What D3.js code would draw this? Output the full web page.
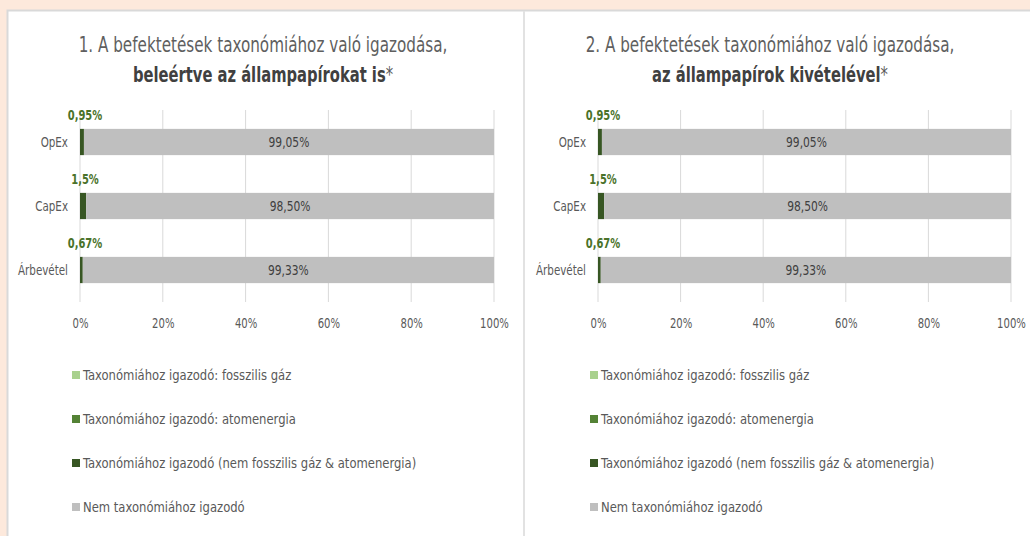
<!DOCTYPE html>
<html><head><meta charset="utf-8">
<script src="https://cdn.jsdelivr.net/npm/d3@7"></script>
<style>
html,body{margin:0;padding:0;background:#fde9dc;}
svg{display:block;}
text{font-family:"DejaVu Sans Condensed","Liberation Sans Narrow","Open Sans",sans-serif;}
</style></head>
<body>
<svg id="c" width="1030" height="536"></svg>
<script>
const categories = ["OpEx", "CapEx", "Árbevétel"];
const seriesNames = [
  "Taxonómiához igazodó: fosszilis gáz",
  "Taxonómiához igazodó: atomenergia",
  "Taxonómiához igazodó (nem fosszilis gáz & atomenergia)",
  "Nem taxonómiához igazodó"
];
const seriesColors = ["#a9d18e", "#548235", "#375623", "#bfbfbf"];
const fossilGas = [0, 0, 0];
const nuclear = [0, 0, 0];
const alignedOther = [0.95, 1.5, 0.67];
const notAligned = [99.05, 98.50, 99.33];
const alignedLabels = ["0,95%", "1,5%", "0,67%"];
const notAlignedLabels = ["99,05%", "98,50%", "99,33%"];
const xTicks = [0, 20, 40, 60, 80, 100];
const titles = [
  ["1. A befektetések taxonómiához való igazodása,", "beleértve az állampapírokat is", "*"],
  ["2. A befektetések taxonómiához való igazodása,", "az állampapírok kivételével", "*"]
];

// horizontally condense text around its anchor x (reference font is narrow)
function condense(sel, f) {
  sel.each(function () {
    const el = d3.select(this);
    const ax = +el.attr("x") || 0;
    const prev = el.attr("transform") || "";
    el.attr("transform", prev + ` translate(${ax},0) scale(${f},1) translate(${-ax},0)`);
  });
}

const svg = d3.select("#c");
svg.append("rect").attr("x", 7.5).attr("y", 10.5).attr("width", 1030).attr("height", 540)
  .attr("fill", "#fff").attr("stroke", "#d9d9d9").attr("stroke-width", 2);
svg.append("line").attr("x1", 524).attr("x2", 524).attr("y1", 11).attr("y2", 536)
  .attr("stroke", "#e2e2e2").attr("stroke-width", 2);

const panels = [
  {x0: 80, x1: 494, titleX: 263},
  {x0: 598, x1: 1011, titleX: 770}
];

const seriesData = [fossilGas, nuclear, alignedOther, notAligned];
const rows = categories.map((c, i) => {
  const o = {cat: c};
  seriesData.forEach((s, k) => o["s" + k] = s[i]);
  return o;
});
const stack = d3.stack().keys(["s0", "s1", "s2", "s3"])(rows);

panels.forEach((p, pi) => {
  const g = svg.append("g");
  const x = d3.scaleLinear().domain([0, 100]).range([p.x0, p.x1]);
  const y = d3.scaleBand().domain(categories).range([110, 302]).paddingInner(0.59).paddingOuter(0.295);

  // title
  const t1 = g.append("text").attr("x", p.titleX).attr("y", 52).attr("text-anchor", "middle")
    .attr("font-size", 21).attr("fill", "#5f5f5f").text(titles[pi][0]);
  condense(t1, 0.805);
  const t2 = g.append("text").attr("x", p.titleX).attr("y", 82).attr("text-anchor", "middle")
    .attr("font-size", 21).attr("fill", "#595959");
  t2.append("tspan").attr("font-weight", "bold").attr("fill", "#404040").text(titles[pi][1]);
  t2.append("tspan").text(titles[pi][2]);
  condense(t2, 0.78);

  // gridlines
  g.selectAll(".grid").data(xTicks).join("line")
    .attr("x1", d => x(d)).attr("x2", d => x(d))
    .attr("y1", 110).attr("y2", 302)
    .attr("stroke", "#d9d9d9").attr("stroke-width", 1);

  // x axis labels
  const ax = g.append("g").attr("transform", "translate(0,302)")
    .call(d3.axisBottom(x).tickValues(xTicks).tickFormat(d => d + "%").tickSize(0).tickPadding(16));
  ax.select(".domain").remove();
  ax.selectAll("text").attr("font-size", 14).attr("fill", "#595959")
    .style("font-family", '"DejaVu Sans Condensed","Liberation Sans Narrow",sans-serif');
  condense(ax.selectAll("text"), 0.8);

  // y labels
  const cl = g.selectAll(".cat").data(categories).join("text")
    .attr("x", p.x0 - 12).attr("y", d => y(d) + y.bandwidth() / 2)
    .attr("dy", "0.35em").attr("text-anchor", "end")
    .attr("font-size", 14).attr("fill", "#595959").text(d => d);
  condense(cl, 0.82);

  // bars
  stack.forEach((s, k) => {
    g.selectAll(".b" + k).data(s).join("rect")
      .attr("x", d => x(d[0])).attr("width", d => Math.max(0, x(d[1]) - x(d[0])))
      .attr("y", d => y(d.data.cat)).attr("height", y.bandwidth())
      .attr("fill", seriesColors[k]);
  });

  // labels inside gray
  const il = g.selectAll(".lab").data(stack[3]).join("text")
    .attr("x", d => (x(d[0]) + x(d[1])) / 2)
    .attr("y", d => y(d.data.cat) + y.bandwidth() / 2).attr("dy", "0.35em")
    .attr("text-anchor", "middle").attr("font-size", 14).attr("fill", "#404040")
    .text((d, i) => notAlignedLabels[i]);
  condense(il, 0.85);

  // labels above green
  const gl = g.selectAll(".lab2").data(stack[2]).join("text")
    .attr("x", d => x(d[0]) + 5)
    .attr("y", d => y(d.data.cat) - 14).attr("dy", "0.35em")
    .attr("text-anchor", "middle").attr("font-size", 13.5).attr("font-weight", "bold")
    .attr("fill", "#4a7229")
    .text((d, i) => alignedLabels[i]);
  condense(gl, 0.82);

  // legend
  const lg = g.append("g");
  seriesNames.forEach((n, k) => {
    const ly = 375 + k * 44;
    lg.append("rect").attr("x", p.x0 - 8).attr("y", ly - 4).attr("width", 8).attr("height", 8)
      .attr("fill", seriesColors[k]);
    const lt = lg.append("text").attr("x", p.x0 + 3).attr("y", ly).attr("dy", "0.35em")
      .attr("font-size", 14.5).attr("fill", "#595959").text(n);
    condense(lt, 0.89);
  });
});
</script>
</body></html>
